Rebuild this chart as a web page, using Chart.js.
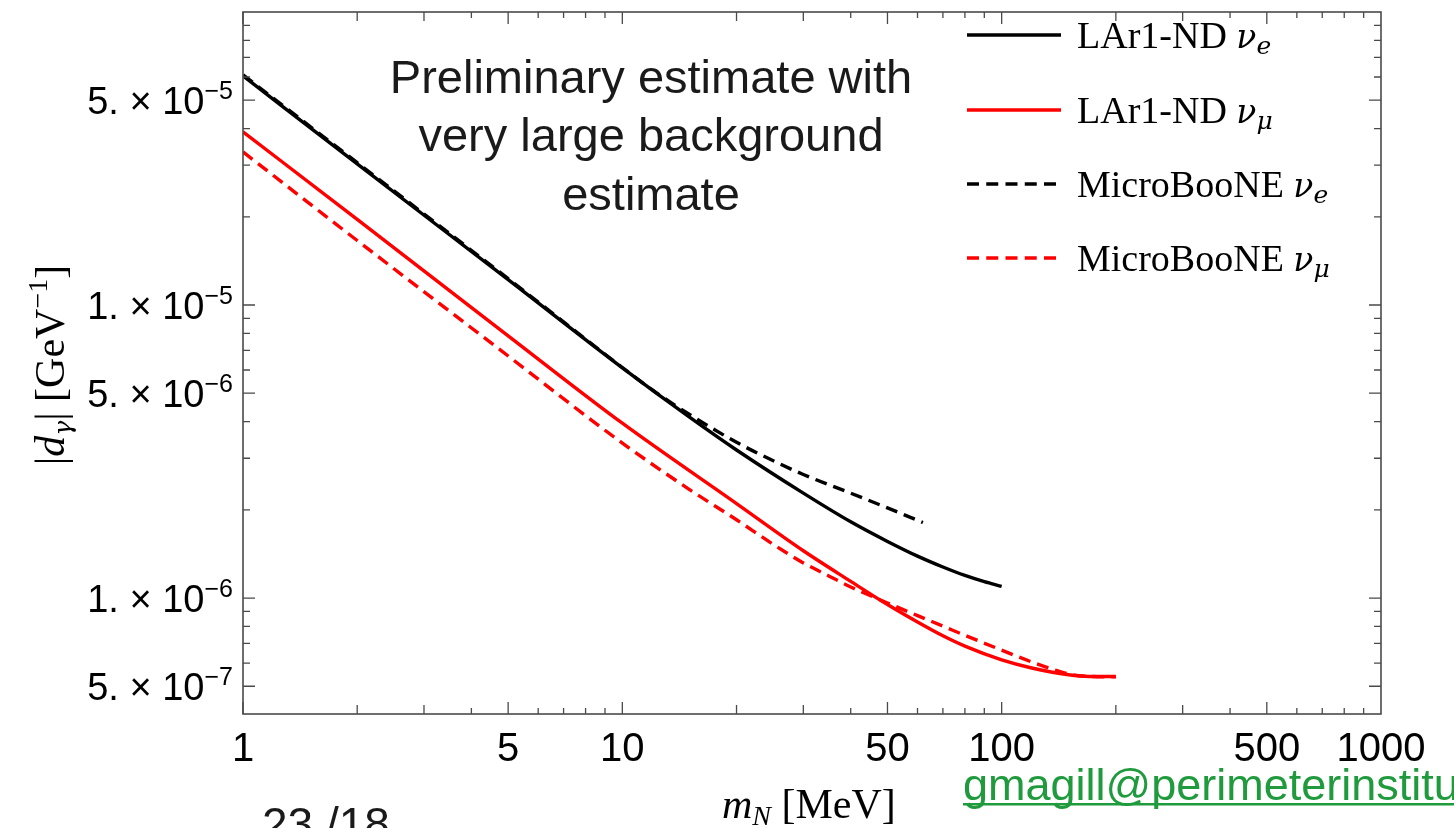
<!DOCTYPE html>
<html>
<head>
<meta charset="utf-8">
<script src="https://cdn.jsdelivr.net/npm/chart.js@4.4.1/dist/chart.umd.min.js"></script>
<style>
  html, body { margin: 0; padding: 0; background: #fff; }
  #wrap { width: 1454px; height: 828px; position: relative; }
</style>
</head>
<body>
<div id="wrap"><canvas id="limitChart"></canvas></div>
<script>
// m_N [MeV] grids and |d_gamma| [GeV^-1] limits
const massLArE = [1, 2, 5, 10, 15, 20, 30, 40, 50, 60, 70, 80, 90, 100];
const lar1ndNuE = [6.05e-5, 3.03e-5, 1.22e-5, 6.1e-6, 4.15e-6, 3.2e-6, 2.28e-6, 1.82e-6, 1.56e-6, 1.39e-6, 1.276e-6, 1.194e-6, 1.137e-6, 1.096e-6];

const massBooneE = [1, 2, 5, 10, 12, 15, 20, 25, 30, 40, 50, 62];
const microbooneNuE = [6.1e-5, 3.06e-5, 1.23e-5, 6.12e-6, 5.13e-6, 4.24e-6, 3.40e-6, 2.94e-6, 2.64e-6, 2.28e-6, 2.03e-6, 1.81e-6];

const massLArMu = [1, 2, 5, 10, 20, 30, 40, 50, 60, 70, 80, 100, 120, 150, 170, 200];
const lar1ndNuMu = [3.90e-5, 1.96e-5, 7.85e-6, 3.95e-6, 2.10e-6, 1.45e-6, 1.14e-6, 9.5e-7, 8.28e-7, 7.43e-7, 6.85e-7, 6.15e-7, 5.77e-7, 5.47e-7, 5.40e-7, 5.40e-7];

const massBooneMu = [1, 2, 5, 10, 15, 20, 25, 30, 35, 40, 50, 60, 70, 80, 100, 120, 140, 160, 200];
const microbooneNuMu = [3.33e-5, 1.66e-5, 6.7e-6, 3.38e-6, 2.35e-6, 1.85e-6, 1.524e-6, 1.318e-6, 1.19e-6, 1.091e-6, 9.62e-7, 8.71e-7, 8.02e-7, 7.46e-7, 6.64e-7, 6.05e-7, 5.65e-7, 5.43e-7, 5.38e-7];

// axis labels
const xLabelValues = [1, 5, 10, 50, 100, 500, 1000];
const xLabels = ['1', '5', '10', '50', '100', '500', '1000'];
const yLabelValues = [5e-5, 1e-5, 5e-6, 1e-6, 5e-7];
const yLabelMantissa = ['5.', '1.', '5.', '1.', '5.'];
const yLabelExponent = ['\u22125', '\u22125', '\u22126', '\u22126', '\u22127'];

const legendNames = ['LAr1-ND ', 'LAr1-ND ', 'MicroBooNE ', 'MicroBooNE '];
const legendSubs = ['e', '\u03bc', 'e', '\u03bc'];

const toPoints = (xs, ys) => xs.map((v, i) => ({ x: v, y: ys[i] }));

const SANS = '"Liberation Sans", Arial, Helvetica, sans-serif';
const SERIF = '"Liberation Serif", "Times New Roman", serif';
const GREEK = '"DejaVu Serif", serif';

function drawRuns(ctx, runs, x, y, align) {
    let total = 0;
    runs.forEach(r => { ctx.font = r.font; r.w = ctx.measureText(r.t).width; total += r.w; });
    let cx = align === 'right' ? x - total : align === 'center' ? x - total / 2 : x;
    runs.forEach(r => {
        ctx.font = r.font;
        ctx.fillText(r.t, cx, y + (r.dy || 0));
        cx += r.w;
    });
    return total;
}

const decorations = {
    id: 'decorations',
    afterDraw(chart) {
        const { ctx, chartArea: a } = chart;
        const xs = chart.scales.x, ys = chart.scales.y;
        ctx.save();
        ctx.textAlign = 'left';
        ctx.textBaseline = 'alphabetic';

        // ticks on all four sides, pointing inward
        ctx.strokeStyle = '#4a4a4a';
        ctx.lineWidth = 1.3;
        ctx.beginPath();
        [1, 10, 100].forEach(d => {
            for (let k = 1; k <= 9; k++) {
                const px = xs.getPixelForValue(k * d);
                const len = (k === 1 || k === 5) ? 12 : (k <= 3 ? 9 : 6);
                ctx.moveTo(px, a.bottom); ctx.lineTo(px, a.bottom - len);
                ctx.moveTo(px, a.top); ctx.lineTo(px, a.top + len);
            }
        });
        [1e-7, 1e-6, 1e-5].forEach(d => {
            for (let k = 1; k <= 9; k++) {
                const v = k * d;
                if (v < ys.min || v > ys.max) continue;
                const py = ys.getPixelForValue(v);
                const len = (k === 1 || k === 5) ? 12 : 7;
                ctx.moveTo(a.left, py); ctx.lineTo(a.left + len, py);
                ctx.moveTo(a.right, py); ctx.lineTo(a.right - len, py);
            }
        });
        ctx.stroke();

        // frame
        ctx.lineWidth = 1.6;
        ctx.strokeRect(a.left, a.top, a.right - a.left, a.bottom - a.top);

        // tick labels
        ctx.fillStyle = '#000';
        ctx.textAlign = 'center';
        ctx.font = '40px ' + SANS;
        xLabelValues.forEach((v, i) => {
            ctx.fillText(xLabels[i], xs.getPixelForValue(v), a.bottom + 47);
        });
        ctx.textAlign = 'left';
        yLabelValues.forEach((v, i) => {
            const py = ys.getPixelForValue(v);
            drawRuns(ctx, [
                { t: yLabelMantissa[i] + ' \u00d7 10', font: '38px ' + SANS },
                { t: yLabelExponent[i], font: '25px ' + SANS, dy: -15 }
            ], a.left - 10, py + 14, 'right');
        });

        // axis titles
        drawRuns(ctx, [
            { t: 'm', font: 'italic 42px ' + SERIF },
            { t: 'N', font: 'italic 28px ' + SERIF, dy: 7 },
            { t: ' [MeV]', font: '42px ' + SERIF }
        ], 722, 818, 'left');

        ctx.save();
        ctx.translate(64, 365);
        ctx.rotate(-Math.PI / 2);
        drawRuns(ctx, [
            { t: '|', font: '42px ' + SERIF },
            { t: 'd', font: 'italic 42px ' + SERIF },
            { t: '\u03b3', font: 'italic 25px ' + GREEK, dy: 7 },
            { t: '| [GeV', font: '42px ' + SERIF },
            { t: '\u22121', font: '28px ' + SERIF, dy: -17 },
            { t: ']', font: '42px ' + SERIF }
        ], 0, 0, 'center');
        ctx.restore();

        // annotation
        ctx.fillStyle = '#1a1a1a';
        ctx.textAlign = 'center';
        ctx.font = '47px ' + SANS;
        ctx.fillText('Preliminary estimate with', 651, 93);
        ctx.fillText('very large background', 651, 151);
        ctx.fillText('estimate', 651, 210);

        // legend
        ctx.textAlign = 'left';
        const rowsY = [35, 110, 184, 258];
        chart.data.datasets.forEach((ds, i) => {
            const ly = rowsY[i];
            const dashed = ds.borderDash && ds.borderDash.length;
            ctx.strokeStyle = ds.borderColor;
            ctx.lineWidth = 3.3;
            ctx.setLineDash(dashed ? [12, 7.25] : []);
            ctx.beginPath();
            ctx.moveTo(967, ly);
            ctx.lineTo(dashed ? 1056 : 1061, ly);
            ctx.stroke();
            ctx.setLineDash([]);
            ctx.fillStyle = '#000';
            drawRuns(ctx, [
                { t: legendNames[i], font: '38px ' + SERIF },
                { t: '\u03bd', font: 'italic 33px ' + GREEK },
                { t: legendSubs[i], font: 'italic 25px ' + GREEK, dy: 6 }
            ], 1077, ly + 13, 'left');
        });

        // slide footer
        ctx.fillStyle = '#1a1a1a';
        ctx.font = '46px ' + SANS;
        ctx.fillText('23 /18', 262, 840);
        ctx.fillStyle = '#1f9a3c';
        ctx.font = '45px ' + SANS;
        const ew = ctx.measureText('gmagill@perimeterinstitute.ca').width;
        ctx.fillText('gmagill@perimeterinstitute.ca', 963, 800);
        ctx.fillRect(963, 803, ew, 2.5);

        ctx.restore();
    }
};

const ctx = document.getElementById('limitChart').getContext('2d');
const limitChart = new Chart(ctx, {
    type: 'line',
    data: {
        datasets: [
            {
                label: 'LAr1-ND \u03bde',
                data: toPoints(massLArE, lar1ndNuE),
                borderColor: '#000000',
                borderDash: [],
                order: 1
            },
            {
                label: 'LAr1-ND \u03bd\u03bc',
                data: toPoints(massLArMu, lar1ndNuMu),
                borderColor: '#ff0000',
                borderDash: [],
                order: 1
            },
            {
                label: 'MicroBooNE \u03bde',
                data: toPoints(massBooneE, microbooneNuE),
                borderColor: '#000000',
                borderDash: [12, 7],
                order: 0
            },
            {
                label: 'MicroBooNE \u03bd\u03bc',
                data: toPoints(massBooneMu, microbooneNuMu),
                borderColor: '#ff0000',
                borderDash: [12, 7],
                order: 2
            }
        ]
    },
    options: {
        responsive: true,
        maintainAspectRatio: false,
        animation: false,
        datasets: {
            line: {
                borderWidth: 3.4,
                pointRadius: 0,
                fill: false,
                cubicInterpolationMode: 'monotone'
            }
        },
        layout: {
            padding: { left: 243, right: 73, top: 12, bottom: 114 }
        },
        scales: {
            x: {
                type: 'logarithmic',
                min: 1,
                max: 1000,
                display: false
            },
            y: {
                type: 'logarithmic',
                min: 4.02e-7,
                max: 1e-4,
                display: false
            }
        },
        plugins: {
            legend: { display: false },
            tooltip: { enabled: false }
        }
    },
    plugins: [decorations]
});
</script>
</body>
</html>
